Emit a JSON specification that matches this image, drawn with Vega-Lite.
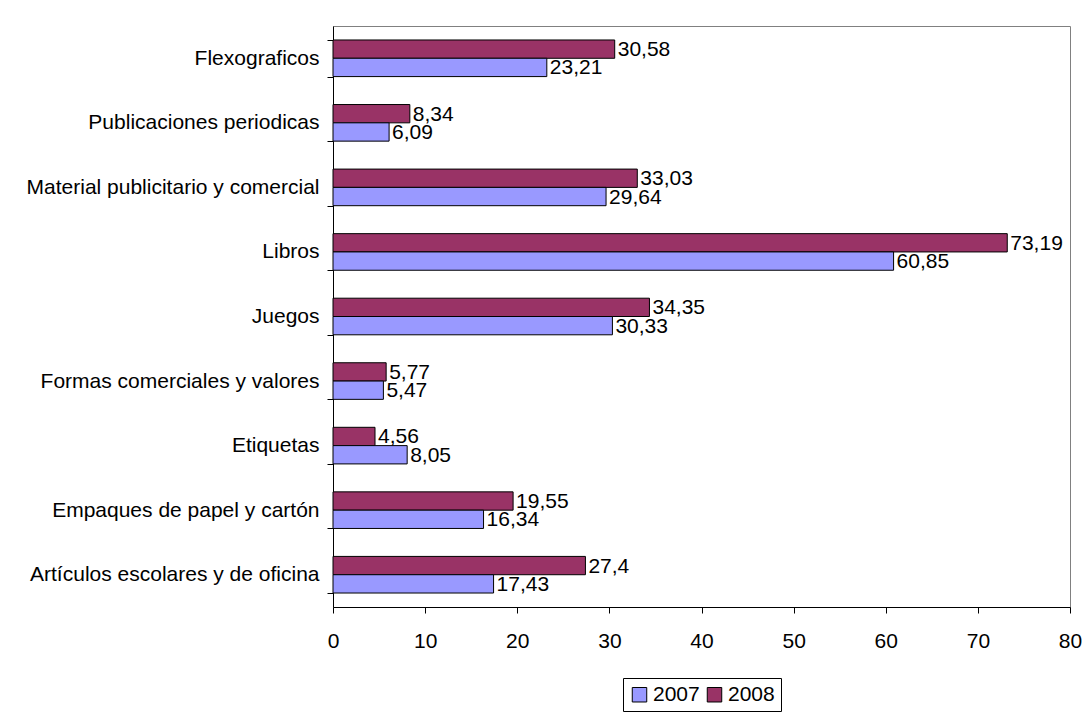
{
  "$schema": "https://vega.github.io/schema/vega-lite/v6.json",
  "autosize": "none",
  "width": 737,
  "height": 581,
  "padding": {"left": 333, "top": 26, "right": 17, "bottom": 110},
  "background": "white",
  "config": {
    "font": "Liberation Sans",
    "view": {"stroke": "#808080", "strokeWidth": 1},
    "axis": {"labelFont": "Liberation Sans", "labelFontSize": 21, "labelColor": "black", "domainColor": "black", "tickColor": "black", "tickSize": 6, "grid": false, "title": null}
  },
  "data": {
    "values": [
      {"cat": "Flexograficos", "year": "2008", "value": 30.58, "label": "30,58"},
      {"cat": "Flexograficos", "year": "2007", "value": 23.21, "label": "23,21"},
      {"cat": "Publicaciones periodicas", "year": "2008", "value": 8.34, "label": "8,34"},
      {"cat": "Publicaciones periodicas", "year": "2007", "value": 6.09, "label": "6,09"},
      {"cat": "Material publicitario y comercial", "year": "2008", "value": 33.03, "label": "33,03"},
      {"cat": "Material publicitario y comercial", "year": "2007", "value": 29.64, "label": "29,64"},
      {"cat": "Libros", "year": "2008", "value": 73.19, "label": "73,19"},
      {"cat": "Libros", "year": "2007", "value": 60.85, "label": "60,85"},
      {"cat": "Juegos", "year": "2008", "value": 34.35, "label": "34,35"},
      {"cat": "Juegos", "year": "2007", "value": 30.33, "label": "30,33"},
      {"cat": "Formas comerciales y valores", "year": "2008", "value": 5.77, "label": "5,77"},
      {"cat": "Formas comerciales y valores", "year": "2007", "value": 5.47, "label": "5,47"},
      {"cat": "Etiquetas", "year": "2008", "value": 4.56, "label": "4,56"},
      {"cat": "Etiquetas", "year": "2007", "value": 8.05, "label": "8,05"},
      {"cat": "Empaques de papel y cartón", "year": "2008", "value": 19.55, "label": "19,55"},
      {"cat": "Empaques de papel y cartón", "year": "2007", "value": 16.34, "label": "16,34"},
      {"cat": "Artículos escolares y de oficina", "year": "2008", "value": 27.4, "label": "27,4"},
      {"cat": "Artículos escolares y de oficina", "year": "2007", "value": 17.43, "label": "17,43"}
    ]
  },
  "encoding": {
    "y": {
      "field": "cat", "type": "nominal", "sort": null,
      "scale": {"paddingInner": 0.433, "paddingOuter": 0.2165},
      "axis": {"tickBand": "extent", "labelPadding": 8, "labelLimit": 400}
    },
    "yOffset": {"field": "year", "type": "nominal", "scale": {"domain": ["2008", "2007"]}},
    "x": {
      "field": "value", "type": "quantitative",
      "scale": {"domain": [0, 80], "nice": false},
      "axis": {"values": [0, 10, 20, 30, 40, 50, 60, 70, 80], "labelPadding": 17, "labelFlush": false}
    }
  },
  "layer": [
    {
      "mark": {"type": "bar", "stroke": "black", "strokeWidth": 1},
      "encoding": {
        "color": {
          "field": "year", "type": "nominal",
          "scale": {"domain": ["2007", "2008"], "range": ["#9999FF", "#993366"]},
          "legend": {
            "title": null, "orient": "none", "legendX": 290, "legendY": 652,
            "direction": "horizontal", "symbolType": "square", "symbolSize": 210,
            "symbolStrokeColor": "black", "symbolStrokeWidth": 1, "symbolOpacity": 1,
            "labelFontSize": 21, "labelFont": "Liberation Sans", "labelColor": "black",
            "labelOffset": 3, "columnPadding": 4, "padding": 6,
            "strokeColor": "black", "fillColor": "white"
          }
        }
      }
    },
    {
      "mark": {"type": "text", "align": "left", "baseline": "middle", "dx": 3, "dy": 1, "fontSize": 21, "font": "Liberation Sans", "color": "black"},
      "encoding": {"text": {"field": "label"}}
    }
  ]
}
